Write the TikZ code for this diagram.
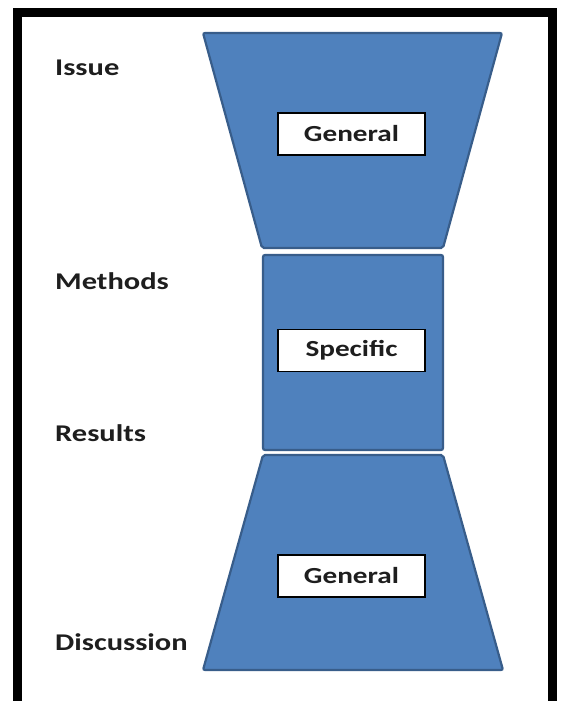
\documentclass[tikz,border=0pt]{standalone}
\usepackage{fontspec}
\newfontfamily\lblfont{Carlito}[FakeStretch=1.27]
\definecolor{shapeblue}{RGB}{79,129,189}
\definecolor{shapeedge}{RGB}{56,93,138}
\definecolor{txt}{RGB}{30,30,30}
\begin{document}
\begin{tikzpicture}[x=1pt,y=-1pt,
  blueshape/.style={fill=shapeblue,draw=shapeedge,line width=2.2pt,rounded corners=2pt},
  wordbox/.style={draw=black,fill=white,line width=1.5pt,minimum width=147pt,minimum height=42pt,inner sep=0pt,font=\lblfont\bfseries\fontsize{23}{27}\selectfont,text=txt},
  sidelabel/.style={anchor=base west,inner sep=0pt,font=\lblfont\bfseries\fontsize{24}{28}\selectfont,text=txt}]
\useasboundingbox (0,0) rectangle (561,701);
\fill[white] (0,0) rectangle (561,701);
% frame
\draw[line width=9pt,line join=miter] (17.5,710) -- (17.5,12.5) -- (552.5,12.5) -- (552.5,710);
% shapes
\draw[blueshape] (203,33) -- (502,33) -- (443,248) -- (262,248) -- cycle;
\draw[blueshape] (263,255) rectangle (443,450);
\draw[blueshape] (263,455) -- (443,455) -- (503,670) -- (203,670) -- cycle;
% boxes
\node[wordbox] (g1) at (351.5,134) {General};
\node[wordbox] (sp) at (351.5,350.5) {Specific};
\node[wordbox] (g2) at (351.5,576) {General};
% labels
\node[sidelabel] (issue) at (55,75) {Issue};
\node[sidelabel] (methods) at (55,289) {Methods};
\node[sidelabel] (results) at (55,441) {Results};
\node[sidelabel] (disc) at (55,650) {Discussion};
\end{tikzpicture}
\end{document}
